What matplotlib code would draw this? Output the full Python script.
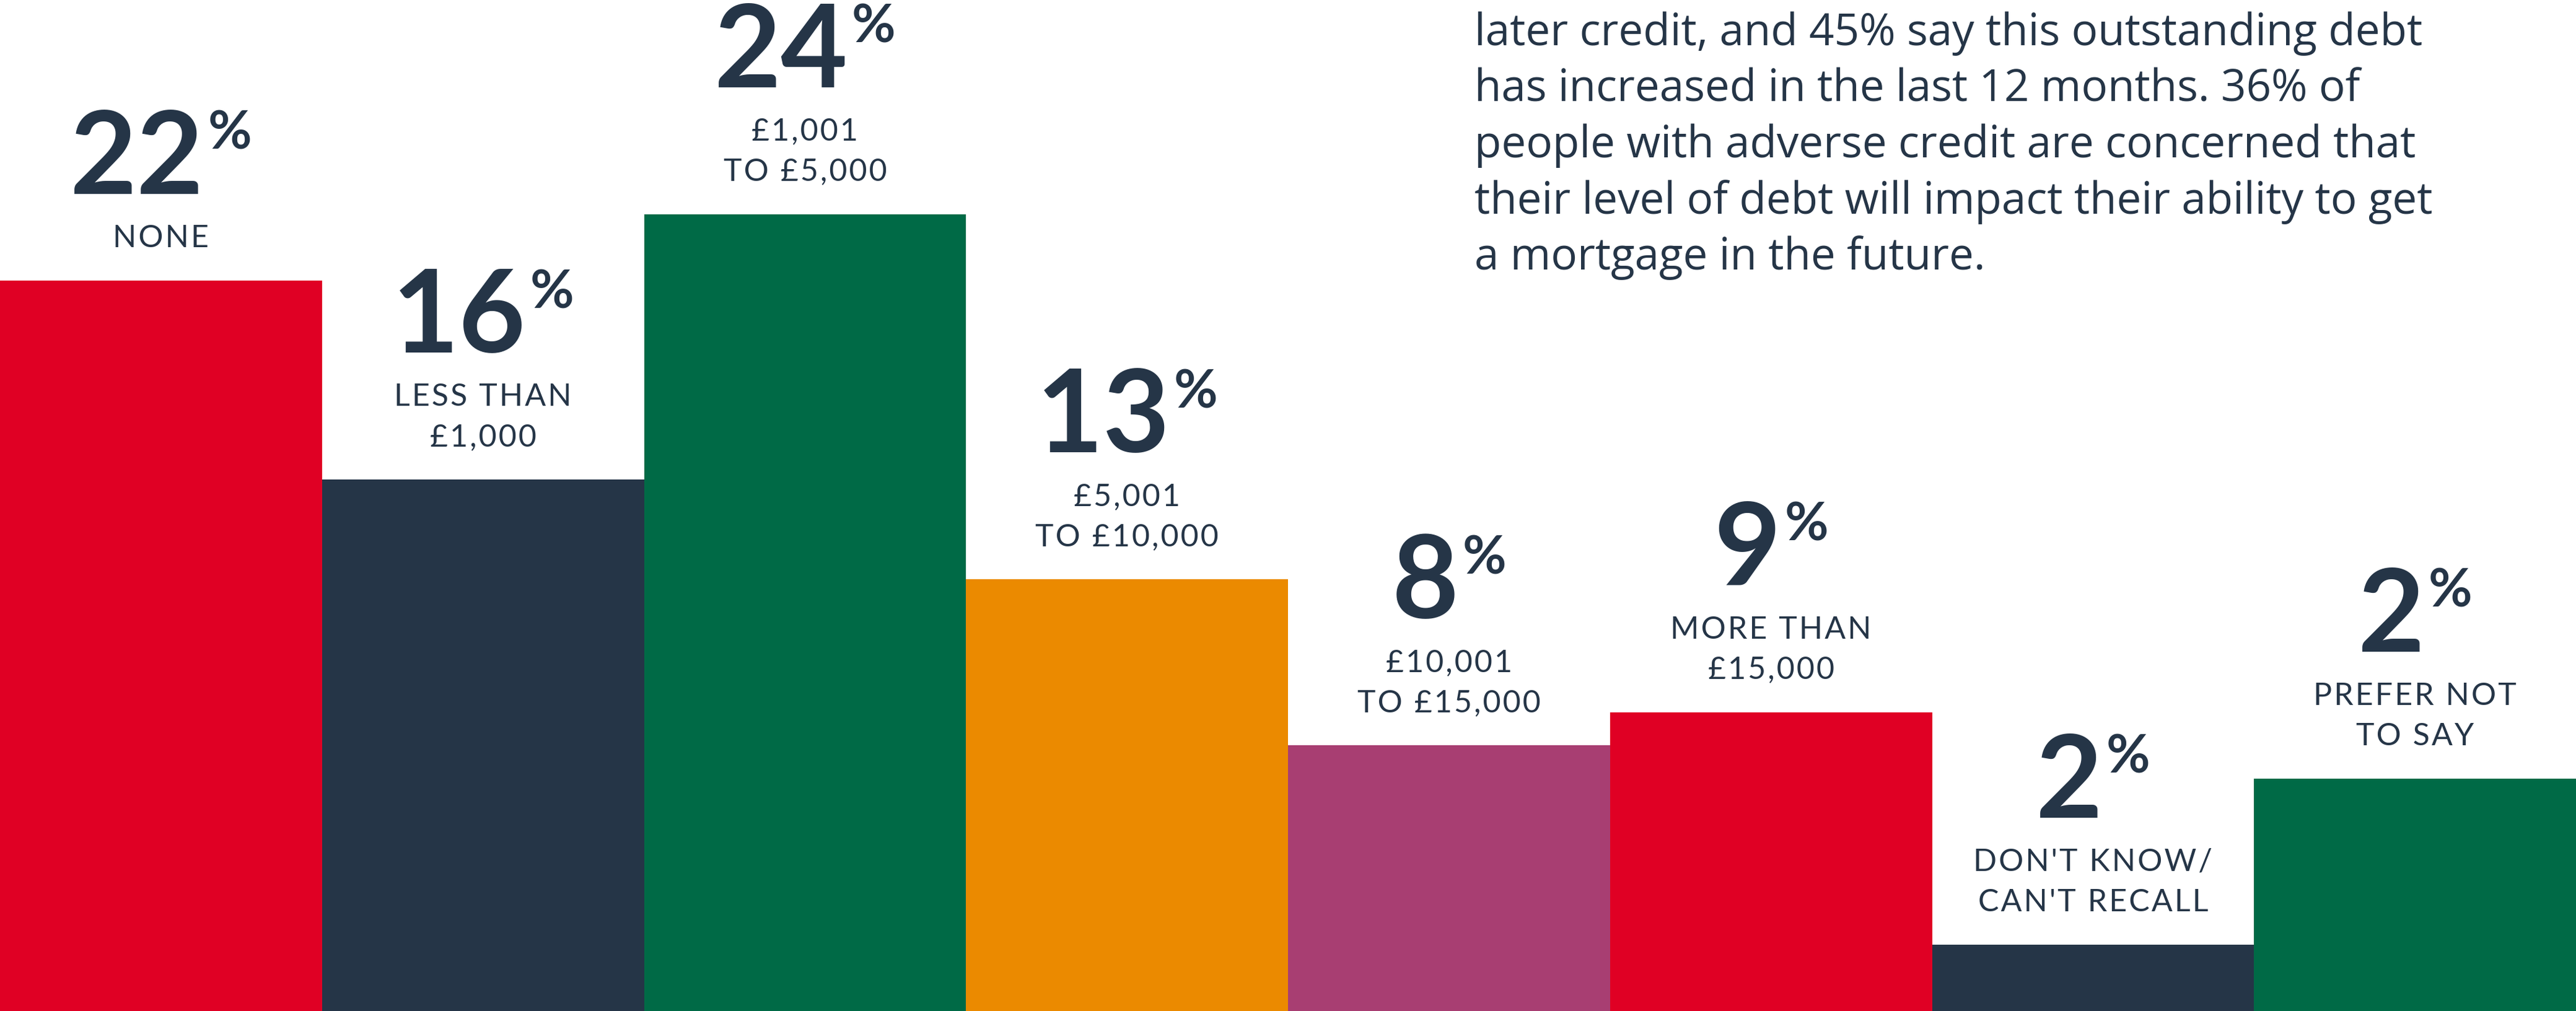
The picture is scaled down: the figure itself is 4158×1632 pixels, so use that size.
import matplotlib
matplotlib.use("Agg")
import matplotlib.pyplot as plt

# Daten
labels = ["NONE", "LESS THAN\n£1,000", "£1,001\nTO £5,000", "£5,001\nTO £10,000",
          "£10,001\nTO £15,000", "MORE THAN\n£15,000", "DON'T KNOW/\nCAN'T RECALL",
          "PREFER NOT\nTO SAY"]
values = [22, 16, 24, 13, 8, 9, 2, 2]
# gezeichnete Balkenhoehe (im Original ist der letzte Balken hoeher als 2%)
bar_heights = [22, 16, 24, 13, 8, 9, 2, 7]
colors = ['#E00024', '#253547', '#006A46', '#EB8A00', '#A83E72',
          '#E00024', '#253547', '#006A46']
paragraph = [
    "later credit, and 45% say this outstanding debt",
    "has increased in the last 12 months. 36% of",
    "people with adverse credit are concerned that",
    "their level of debt will impact their ability to get",
    "a mortgage in the future.",
]

navy = '#253547'
plt.rcParams['font.family'] = ['Lato', 'DejaVu Sans']

W, H = 4158, 1632
fig = plt.figure(figsize=(W / 100, H / 100), dpi=100)
ax = fig.add_axes([0, 0, 1, 1])
ax.bar(range(len(bar_heights)), bar_heights, width=1.0, color=colors)
ax.set_xlim(-0.5, len(bar_heights) - 0.5)
ax.set_ylim(0, H / 53.6)
ax.axis('off')


def spaced(s):
    return '\u200a'.join(s)


nums = []
for i, (v, lab, h) in enumerate(zip(values, labels, bar_heights)):
    lines = lab.split('\n')
    n = len(lines)
    for k, line in enumerate(reversed(lines)):
        ax.annotate(spaced(line), xy=(i, h), xytext=(0, 68 + 65 * k),
                    textcoords='offset pixels', ha='center', va='center',
                    fontsize=36, fontweight='normal', color=navy)
    base = 68 + 65 * (n - 1) + 72
    t_num = ax.annotate(str(v), xy=(i, h), xytext=(0, base),
                        textcoords='offset pixels', ha='left', va='baseline',
                        fontsize=134, fontweight='bold', color=navy)
    t_pct = ax.annotate('%', xy=(i, h), xytext=(0, base + 72),
                        textcoords='offset pixels', ha='left', va='baseline',
                        fontsize=62, fontweight='bold', color=navy)
    nums.append((t_num, t_pct, base))

fig.canvas.draw()
gap = 6
for t_num, t_pct, base in nums:
    wn = t_num.get_window_extent().width
    wp = t_pct.get_window_extent().width
    total = wn + gap + wp
    t_num.xyann = (-total / 2, base)
    t_pct.xyann = (-total / 2 + wn + gap, base + 72)

for j, line in enumerate(paragraph):
    fig.text(2380 / W, 1 - (73 + 90.5 * j) / H, line, ha='left', va='baseline',
             fontsize=51, color=navy, family=['Open Sans', 'DejaVu Sans'])

fig.savefig('out.png', dpi=100)
